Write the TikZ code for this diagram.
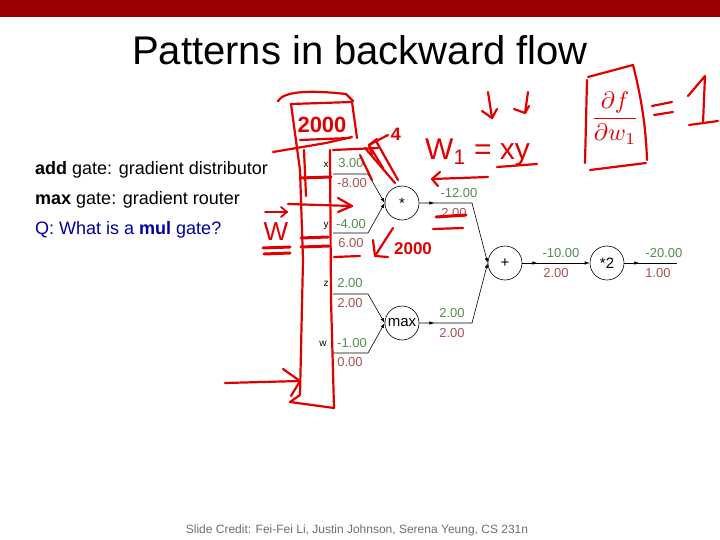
\RequirePackage{fix-cm}
\documentclass[tikz,border=0pt]{standalone}
\usepackage{fontspec}
\setmainfont{Liberation Sans}
\usetikzlibrary{arrows.meta,decorations.markings}
\definecolor{barred}{RGB}{153,0,0}
\definecolor{gval}{RGB}{80,140,80}
\definecolor{rval}{RGB}{170,80,80}
\definecolor{ink}{RGB}{225,0,0}
\definecolor{qblue}{RGB}{0,0,160}
\definecolor{credit}{RGB}{110,110,110}
\begin{document}
\begin{tikzpicture}[x=1pt,y=-1pt,
  gate/.style={circle,draw,minimum size=34pt,inner sep=0pt,line width=0.6pt,font=\fontsize{15}{15}\selectfont},
  gv/.style={text=gval,inner sep=0pt,font=\fontsize{13}{13}\selectfont},
  rv/.style={text=rval,inner sep=0pt,font=\fontsize{13}{13}\selectfont},
  lab/.style={inner sep=0pt,font=\fontsize{10}{10}\selectfont},
  wire/.style={line width=0.6pt},
  tipend/.style={-{Latex[length=5pt,width=3.5pt]}},
  midarrow/.style={decoration={markings,mark=at position 15pt with {\arrow{Latex[length=5pt,width=3.5pt]}}},postaction={decorate}},
  bodytext/.style={anchor=base west,inner sep=0pt,font=\fontsize{18}{20}\selectfont},
  hand/.style={draw=ink,line width=2.2pt,line cap=round,line join=round},
  handtext/.style={text=ink,inner sep=0pt}]
\useasboundingbox (0,0) rectangle (720,540);
\fill[barred] (0,0) rectangle (720,17);
\node[anchor=base,inner sep=0pt,font=\fontsize{40}{48}\selectfont] (title) at (360,65) {Patterns in backward flow};
\node[bodytext] (t1) at (35,175) {\textbf{add} gate: gradient distributor};
\node[bodytext] (t2) at (35,205) {\textbf{max} gate: gradient router};
\node[bodytext,text=qblue] (t3) at (35,235) {Q: What is a \textbf{mul} gate?};
\node[anchor=base,inner sep=0pt,text=credit,font=\fontsize{12}{14}\selectfont] (credit) at (357,533) {Slide Credit: Fei-Fei Li, Justin Johnson, Serena Yeung, CS 231n};
% gates
\node[gate] (mul) at (402,203) {*};
\node[gate] (mx) at (402,323) {max};
\node[gate] (add) at (505,263) {+};
\node[gate] (dbl) at (607,263) {*2};
% input labels
\node[lab] (lx) at (326,165) {x};
\node[lab] (ly) at (326,226) {y};
\node[lab] (lz) at (326,284) {z};
\node[lab] (lw) at (323,344) {w};
% values
\node[gv] (gx) at (351,163) {3.00};
\node[rv] (rx) at (352,183) {-8.00};
\node[gv] (gy) at (351,224) {-4.00};
\node[rv] (ry) at (351,243) {6.00};
\node[gv] (gz) at (350,283) {2.00};
\node[rv] (rz) at (350,303) {2.00};
\node[gv] (gw) at (352,343) {-1.00};
\node[rv] (rw) at (350,362) {0.00};
\node[gv] (gm) at (459,193) {-12.00};
\node[rv] (rm) at (454,213) {2.00};
\node[gv] (gmx) at (452,313) {2.00};
\node[rv] (rmx) at (452,333) {2.00};
\node[gv] (ga) at (561,253) {-10.00};
\node[rv] (ra) at (556,273) {2.00};
\node[gv] (gd) at (664,253) {-20.00};
\node[rv] (rd) at (658,273) {1.00};
% wires
\coordinate (xs) at (333,174); \coordinate (xb) at (368,174);
\coordinate (ys) at (333,233); \coordinate (yb) at (368,233);
\coordinate (zs) at (333,294); \coordinate (zb) at (368,294);
\coordinate (ws) at (333,353); \coordinate (wb) at (368,353);
\coordinate (mb) at (472,203); \coordinate (mxb) at (472,323);
\coordinate (oe) at (677,263);
\draw[wire,tipend] (xs) -- (xb) -- (mul.west);
\draw[wire,tipend] (ys) -- (yb) -- (mul.west);
\draw[wire,tipend] (zs) -- (zb) -- (mx.west);
\draw[wire,tipend] (ws) -- (wb) -- (mx.west);
\draw[wire,midarrow,tipend] (mul.east) -- (mb) -- (add.west);
\draw[wire,midarrow,tipend] (mx.east) -- (mxb) -- (add.west);
\draw[wire,midarrow,tipend] (add.east) -- (dbl.west);
\draw[wire,midarrow] (dbl.east) -- (oe);
% ---- red handwriting ----
% tall box and top cap
\draw[hand] (278,101) .. controls (284,91) and (310,90) .. (346,94) -- (353,101);
\draw[hand] (291,104) -- (352,102) -- (357,138);
\draw[hand] (291,104) -- (300,170) -- (303,260) -- (300,395) -- (290,402) -- (334,408) -- (331,300) -- (330,150);
\draw[hand] (304,150) -- (306,196);
\node[handtext,font=\fontsize{22}{22}\selectfont\bfseries] (h2000a) at (322,125) {2000};
\draw[hand] (273,152) -- (326,143) -- (352,137);
\draw[hand] (300,140) -- (350,138);
\draw[hand,line width=3pt] (300,178) -- (331,177);
\draw[hand] (333,150) -- (378,148);
% 4 and fan of arrows
\node[handtext,font=\fontsize{18}{18}\selectfont\bfseries] (h4) at (396,134) {4};
\draw[hand] (388,135) -- (369,145);
\draw[hand] (377,139) -- (369,145) -- (372,155);
\draw[hand] (369,145) -- (383,168);
\draw[hand] (365,148) -- (395,183);
\draw[hand] (376,141) -- (398,180);
\draw[hand] (360,155) -- (372,180);
% W1 = xy
\node[handtext,anchor=base west,font=\fontsize{30}{30}\selectfont] (w1eq) at (425,160) {W\textsubscript{1} = xy};
\draw[hand] (488,92) -- (492,118); \draw[hand] (482,111) -- (492,118) -- (497,109);
\draw[hand] (528,92) -- (525,113); \draw[hand] (514,109) -- (525,113) -- (529,106);
\draw[hand] (497,167) -- (537,164);
\draw[hand] (488,177) -- (432,179); \draw[hand] (440,172) -- (432,179) -- (438,186);
% strike on 2.00
\draw[hand,line width=3pt] (436,217) -- (466,215);
\draw[hand] (433,229) -- (463,228);
% arrow 2000
\draw[hand] (393,228) -- (375,256);
\draw[hand] (373,240) -- (375,256) -- (388,257);
\node[handtext,font=\fontsize{17}{17}\selectfont\bfseries] (h2000b) at (413,249) {2000};
% W vector and equals
\node[handtext,font=\fontsize{26}{26}\selectfont] (wvec) at (276,232) {W};
\draw[hand,line width=1.8pt] (265,212) -- (287,212);
\draw[hand,line width=1.8pt] (281,207) -- (287,212) -- (281,217);
\draw[hand,line width=3pt] (263,248) -- (290,247);
\draw[hand,line width=3pt] (264,254) -- (290,253);
\draw[hand] (288,204) -- (352,206);
\draw[hand] (338,198) -- (352,206) -- (338,212);
\draw[hand,line width=3pt] (301,238) -- (328,237);
\draw[hand,line width=3pt] (301,247) -- (329,246);
\draw[hand] (334,257) -- (360,256);
% left bottom arrow
\draw[hand] (225,383) -- (300,381);
\draw[hand] (283,369) -- (300,381) -- (291,396);
% df/dw1 = 1
\draw[hand] (588,77) -- (633,65) .. controls (642,100) and (646,130) .. (647,160);
\draw[hand] (587,80) -- (585,163);
\draw[hand] (590,170) -- (646,163);
\node[handtext,scale=2.4] (dfdw) at (615,118) {$\displaystyle\frac{\partial f}{\partial w_1}$};
\draw[hand] (652,106) -- (672,102);
\draw[hand] (654,115) -- (673,112);
\draw[hand] (688,96) -- (705,76) -- (703,123);
\draw[hand] (689,125) -- (718,121);
\end{tikzpicture}
\end{document}
